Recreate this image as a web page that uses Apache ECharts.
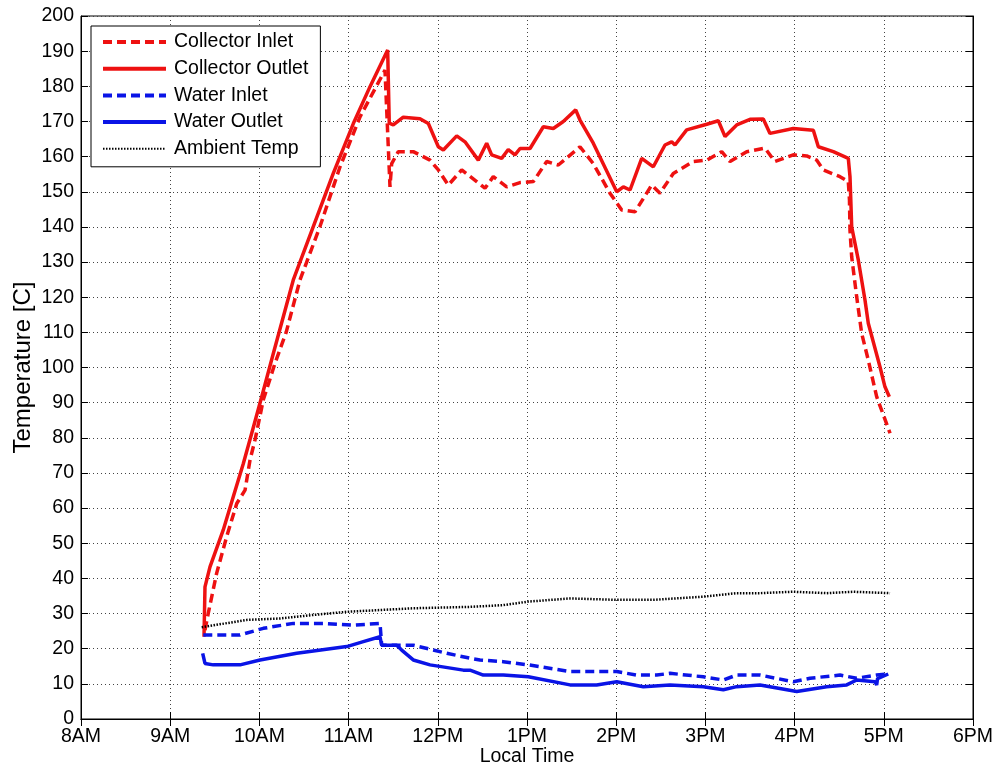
<!DOCTYPE html>
<html>
<head>
<meta charset="utf-8">
<script src="https://cdn.jsdelivr.net/npm/echarts@6/dist/echarts.min.js"></script>
<style>
html,body{margin:0;padding:0;background:#fff;}
#chart{width:1003px;height:774px;}
</style>
</head>
<body>
<div id="chart"></div>
<script>
// Time in decimal hours (local time), temperatures in C
var seriesNames = ['Collector Inlet', 'Collector Outlet', 'Water Inlet', 'Water Outlet', 'Ambient Temp'];
var xTickHours = [8, 9, 10, 11, 12, 13, 14, 15, 16, 17, 18];
var xTickLabels = ['8AM', '9AM', '10AM', '11AM', '12PM', '1PM', '2PM', '3PM', '4PM', '5PM', '6PM'];

var colInTime = [9.390, 9.427, 9.521, 9.633, 9.746, 9.839, 9.895, 9.951, 10.044, 10.175, 10.300, 10.455, 10.679, 10.904, 11.128, 11.408, 11.427, 11.464, 11.483, 11.557, 11.725, 11.913, 12.006, 12.118, 12.268, 12.436, 12.529, 12.622, 12.772, 12.922, 13.071, 13.221, 13.351, 13.594, 13.743, 13.930, 14.062, 14.211, 14.398, 14.491, 14.640, 14.864, 15.015, 15.183, 15.276, 15.463, 15.668, 15.780, 15.985, 16.136, 16.248, 16.322, 16.509, 16.602, 16.615, 16.621, 16.640, 16.696, 16.752, 16.826, 16.920, 17.070];
var colInTemp = [25.3, 30.1, 41.5, 51.9, 61.3, 65.1, 73.7, 79.4, 90.8, 101.2, 110.0, 124.9, 140.1, 157.1, 171.3, 184.6, 185.0, 151.4, 158.0, 161.4, 161.4, 159.0, 156.2, 151.9, 156.2, 152.9, 151.0, 154.3, 151.4, 152.6, 152.9, 158.6, 157.6, 162.8, 158.0, 149.6, 144.8, 144.3, 151.9, 149.6, 155.2, 158.6, 159.0, 161.4, 158.6, 161.4, 162.4, 158.6, 160.5, 160.2, 159.0, 156.2, 154.3, 152.9, 147.7, 139.0, 131.5, 120.1, 109.7, 102.1, 91.7, 81.3];

var colOutTime = [9.379, 9.390, 9.446, 9.595, 9.707, 9.820, 9.914, 10.026, 10.156, 10.380, 10.604, 10.828, 11.053, 11.240, 11.438, 11.456, 11.501, 11.613, 11.800, 11.894, 12.006, 12.062, 12.212, 12.305, 12.454, 12.548, 12.604, 12.716, 12.790, 12.865, 12.922, 13.034, 13.183, 13.295, 13.407, 13.546, 13.594, 13.743, 14.006, 14.080, 14.155, 14.286, 14.416, 14.547, 14.622, 14.659, 14.790, 15.015, 15.145, 15.220, 15.351, 15.500, 15.649, 15.724, 15.985, 16.210, 16.266, 16.434, 16.602, 16.621, 16.630, 16.640, 16.714, 16.789, 16.826, 16.957, 17.013, 17.062];
var colOutTemp = [23.4, 37.6, 43.3, 53.8, 63.2, 72.7, 81.3, 91.7, 104.0, 124.9, 140.1, 155.2, 169.4, 179.9, 190.3, 169.5, 169.0, 171.2, 170.8, 169.4, 162.8, 161.9, 165.9, 164.2, 159.0, 163.8, 160.5, 159.5, 162.0, 160.5, 162.3, 162.3, 168.5, 168.0, 170.0, 173.3, 170.4, 163.8, 150.0, 151.4, 150.5, 159.5, 157.1, 163.3, 164.2, 163.3, 167.6, 169.2, 170.2, 165.7, 169.0, 170.6, 170.7, 166.6, 168.0, 167.5, 162.8, 161.4, 159.5, 154.3, 147.7, 140.0, 130.6, 119.2, 112.6, 100.2, 94.5, 91.7];

var waterInTime = [9.371, 9.783, 10.044, 10.380, 10.716, 11.053, 11.352, 11.371, 11.539, 11.725, 12.100, 12.361, 12.473, 12.734, 13.015, 13.482, 14.006, 14.230, 14.454, 14.603, 14.977, 15.201, 15.351, 15.612, 15.985, 16.173, 16.509, 16.696, 16.920, 17.050];
var waterInTemp = [23.9, 23.9, 25.8, 27.2, 27.2, 26.7, 27.2, 21.0, 21.0, 21.0, 18.7, 17.3, 16.8, 16.3, 15.4, 13.5, 13.5, 12.5, 12.5, 13.0, 12.0, 11.1, 12.5, 12.5, 10.6, 11.6, 12.5, 11.6, 12.5, 12.8];

var waterOutTime = [9.364, 9.390, 9.483, 9.783, 10.007, 10.418, 10.979, 11.165, 11.352, 11.371, 11.539, 11.595, 11.725, 11.913, 12.286, 12.361, 12.510, 12.734, 13.015, 13.482, 13.781, 14.006, 14.304, 14.603, 14.977, 15.201, 15.351, 15.612, 16.024, 16.360, 16.584, 16.696, 16.901, 16.920, 16.930, 17.050];
var waterOutTemp = [18.7, 15.8, 15.4, 15.4, 16.8, 18.7, 20.6, 22.0, 23.4, 21.0, 21.0, 19.6, 16.8, 15.4, 13.9, 13.9, 12.5, 12.5, 12.0, 9.7, 9.7, 10.6, 9.2, 9.7, 9.2, 8.3, 9.2, 9.7, 7.8, 9.2, 9.7, 11.1, 10.6, 9.7, 11.5, 12.8];

var ambTime = [9.353, 9.858, 10.231, 10.604, 10.979, 11.352, 11.725, 12.361, 12.734, 13.015, 13.482, 14.006, 14.416, 14.977, 15.351, 15.612, 15.985, 16.360, 16.658, 17.070];
var ambTemp = [26.1, 28.2, 28.6, 29.6, 30.5, 31.0, 31.5, 31.9, 32.4, 33.4, 34.3, 33.9, 33.9, 34.8, 35.8, 35.8, 36.2, 35.8, 36.2, 35.8];

function zip(t, v) { return t.map(function (x, i) { return [x, v[i]]; }); }

var FONT = 'Arial, "Liberation Sans", sans-serif';
var RED = '#ee1111';
var BLUE = '#0a14e6';

function hourLabel(v) {
  var i = xTickHours.indexOf(Math.round(v));
  return i >= 0 ? xTickLabels[i] : '';
}

var chart = echarts.init(document.getElementById('chart'), null, {renderer: 'canvas'});
var opt = {
  backgroundColor: '#fff',
  animation: false,
  textStyle: {fontFamily: FONT},
  grid: {left: 81, top: 16, width: 892, height: 703, containLabel: false, outerBoundsMode: 'none',
         show: true, borderColor: '#000', borderWidth: 1, backgroundColor: 'transparent'},
  legend: {
    orient: 'vertical', left: 91, top: 26,
    padding: [6, 12, 8, 10],
    itemWidth: 63, itemHeight: 20, itemGap: 6.7,
    backgroundColor: '#fff', borderColor: '#000', borderWidth: 1,
    itemStyle: {opacity: 0},
    textStyle: {fontFamily: FONT, fontSize: 19.5, color: '#000', padding: [0, 0, 0, 3]},
    data: [
      {name: seriesNames[0], lineStyle: {width: 4, color: RED, type: [9, 5]}},
      {name: seriesNames[1], lineStyle: {width: 4, color: RED, type: 'solid'}},
      {name: seriesNames[2], lineStyle: {width: 4, color: BLUE, type: [9, 5]}},
      {name: seriesNames[3], lineStyle: {width: 4, color: BLUE, type: 'solid'}},
      {name: seriesNames[4], lineStyle: {width: 2, color: '#000', type: [1.5, 1.5]}}
    ]
  },
  xAxis: [{
    type: 'value', min: 8, max: 18, interval: 1,
    name: 'Local Time', nameLocation: 'middle', nameGap: 28, nameMoveOverlap: false,
    nameTextStyle: {fontFamily: FONT, fontSize: 19.5, color: '#000', verticalAlign: 'top'},
    axisLine: {show: true, lineStyle: {color: '#000', width: 1}},
    axisTick: {show: true, inside: true, length: 7, lineStyle: {color: '#000'}},
    axisLabel: {fontFamily: FONT, fontSize: 19.5, color: '#000', margin: 8, formatter: hourLabel},
    splitLine: {show: true, lineStyle: {color: '#444', width: 1, type: [1, 3]}}
  }, {
    type: 'value', min: 8, max: 18, interval: 1, position: 'top',
    axisLine: {show: true, lineStyle: {color: '#000'}},
    axisTick: {show: true, inside: true, length: 7, lineStyle: {color: '#000'}},
    axisLabel: {show: false}, splitLine: {show: false}
  }],
  yAxis: [{
    type: 'value', min: 0, max: 200, interval: 10,
    name: 'Temperature [C]', nameLocation: 'middle', nameGap: 46, nameMoveOverlap: false,
    nameTextStyle: {fontFamily: FONT, fontSize: 24, color: '#000'},
    axisLine: {show: true, lineStyle: {color: '#000', width: 1}},
    axisTick: {show: true, inside: true, length: 7, lineStyle: {color: '#000'}},
    axisLabel: {fontFamily: FONT, fontSize: 19.5, color: '#000', margin: 7},
    splitLine: {show: true, lineStyle: {color: '#444', width: 1, type: [1, 3]}}
  }, {
    type: 'value', min: 0, max: 200, interval: 10, position: 'right',
    axisLine: {show: true, lineStyle: {color: '#000'}},
    axisTick: {show: true, inside: true, length: 7, lineStyle: {color: '#000'}},
    axisLabel: {show: false}, splitLine: {show: false}
  }],
  series: [
    {name: seriesNames[0], type: 'line', symbol: 'none', data: zip(colInTime, colInTemp),
     lineStyle: {color: RED, width: 3.5, type: [9, 5]}, itemStyle: {color: RED}, z: 3},
    {name: seriesNames[1], type: 'line', symbol: 'none', data: zip(colOutTime, colOutTemp),
     lineStyle: {color: RED, width: 3.5, type: 'solid'}, itemStyle: {color: RED}, z: 3},
    {name: seriesNames[2], type: 'line', symbol: 'none', data: zip(waterInTime, waterInTemp),
     lineStyle: {color: BLUE, width: 3.5, type: [9, 5]}, itemStyle: {color: BLUE}, z: 3},
    {name: seriesNames[3], type: 'line', symbol: 'none', data: zip(waterOutTime, waterOutTemp),
     lineStyle: {color: BLUE, width: 3.5, type: 'solid'}, itemStyle: {color: BLUE}, z: 3},
    {name: seriesNames[4], type: 'line', symbol: 'none', data: zip(ambTime, ambTemp),
     lineStyle: {color: '#000', width: 2.5, type: [1.5, 1.5]}, itemStyle: {color: '#000'}, z: 3}
  ]
};
chart.setOption(opt);
</script>
</body>
</html>
